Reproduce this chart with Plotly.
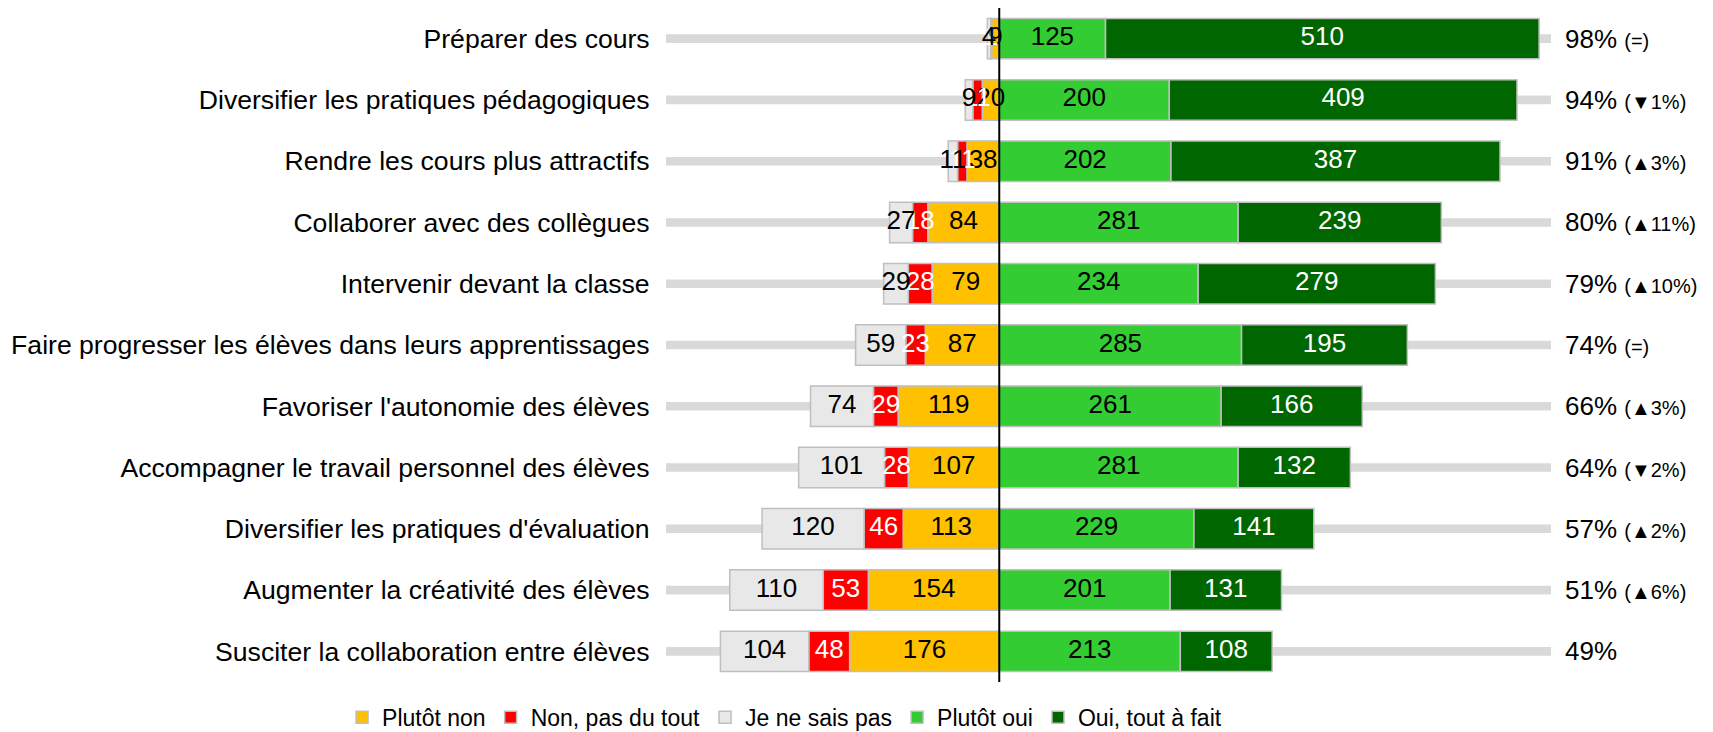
import numpy as np
import plotly.graph_objects as go

categories = [
    "Préparer des cours",
    "Diversifier les pratiques pédagogiques",
    "Rendre les cours plus attractifs",
    "Collaborer avec des collègues",
    "Intervenir devant la classe",
    "Faire progresser les élèves dans leurs apprentissages",
    "Favoriser l'autonomie des élèves",
    "Accompagner le travail personnel des élèves",
    "Diversifier les pratiques d'évaluation",
    "Augmenter la créativité des élèves",
    "Susciter la collaboration entre élèves",
]
plutot_non = [9, 20, 38, 84, 79, 87, 119, 107, 113, 154, 176]
non_pas_du_tout = [1, 11, 11, 18, 28, 23, 29, 28, 46, 53, 48]
je_ne_sais_pas = [4, 9, 11, 27, 29, 59, 74, 101, 120, 110, 104]
plutot_oui = [125, 200, 202, 281, 234, 285, 261, 281, 229, 201, 213]
oui_tout_a_fait = [510, 409, 387, 239, 279, 195, 166, 132, 141, 131, 108]
pct_labels = ["98%", "94%", "91%", "80%", "79%", "74%", "66%", "64%", "57%", "51%", "49%"]
trend_labels = ["(=)", "(▼1%)", "(▲3%)", "(▲11%)", "(▲10%)", "(=)", "(▲3%)", "(▼2%)", "(▲2%)", "(▲6%)", ""]
x_min, x_max = -392, 649

FONT = "Liberation Sans, Arial, sans-serif"
BORDER = "#BFBFBF"

pn = np.array(plutot_non)
nt = np.array(non_pas_du_tout)
js = np.array(je_ne_sais_pas)
po = np.array(plutot_oui)
ot = np.array(oui_tout_a_fait)
n = len(categories)

fig = go.Figure()

# background tracks
fig.add_trace(go.Bar(
    y=categories, x=[x_max - x_min] * n, base=[x_min] * n,
    orientation="h", width=0.14, marker=dict(color="#D9D9D9", line=dict(width=0)),
    showlegend=False, hoverinfo="skip"))

series = [
    ("Plutôt non", pn, -pn, np.zeros_like(pn), "#FFC000", "black"),
    ("Non, pas du tout", nt, -nt, -pn, "#FF0000", "white"),
    ("Je ne sais pas", js, -js, -(pn + nt), "#E8E8E8", "black"),
    ("Plutôt oui", po, po, np.zeros_like(po), "#33CC33", "black"),
    ("Oui, tout à fait", ot, ot, po, "#006600", "white"),
]

for name, vals, xs, base, color, tcolor in series:
    fig.add_trace(go.Bar(
        y=categories, x=xs, base=base, orientation="h", width=0.66, name=name,
        marker=dict(color=color, line=dict(color=BORDER, width=1.5)),
        hoverinfo="skip"))

for name, vals, xs, base, color, tcolor in series:
    centers = base + xs / 2.0
    fig.add_trace(go.Scatter(
        y=categories, x=centers, mode="text",
        text=[str(v) if v > 0 else "" for v in vals],
        textfont=dict(family=FONT, size=26, color=tcolor),
        textposition="middle center", showlegend=False, hoverinfo="skip"))

for cat, p, t in zip(categories, pct_labels, trend_labels):
    txt = p + (" <span style='font-size:20px'>" + t + "</span>" if t else "")
    fig.add_annotation(x=x_max, y=cat, xref="x", yref="y", text=txt, showarrow=False,
                       xanchor="left", xshift=12, font=dict(family=FONT, size=26, color="black"))

fig.add_shape(type="line", x0=0, x1=0, xref="x", y0=0, y1=1, yref="paper",
              line=dict(color="black", width=2))

fig.update_layout(
    width=1713, height=732,
    barmode="overlay",
    plot_bgcolor="white", paper_bgcolor="white",
    margin=dict(l=666, r=162, t=8, b=50, autoexpand=False),
    font=dict(family=FONT, size=26, color="black"),
    xaxis=dict(range=[x_min, x_max], visible=False, fixedrange=True),
    yaxis=dict(range=[n - 0.5, -0.5], showgrid=False, zeroline=False, showline=False,
               categoryorder="array", categoryarray=categories,
               ticks="outside", ticklen=10, tickcolor="rgba(0,0,0,0)",
               tickfont=dict(family=FONT, size=26.6, color="black"), automargin=False),
    legend=dict(orientation="h", xref="container", x=0.458, xanchor="center",
                yref="container", y=0.02, yanchor="middle",
                font=dict(family=FONT, size=23, color="black"), itemwidth=30,
                traceorder="normal", bgcolor="rgba(0,0,0,0)"),
    showlegend=True,
)

fig.write_html("out.html", config={"displayModeBar": False},
               post_script="document.body.style.margin='0';")
